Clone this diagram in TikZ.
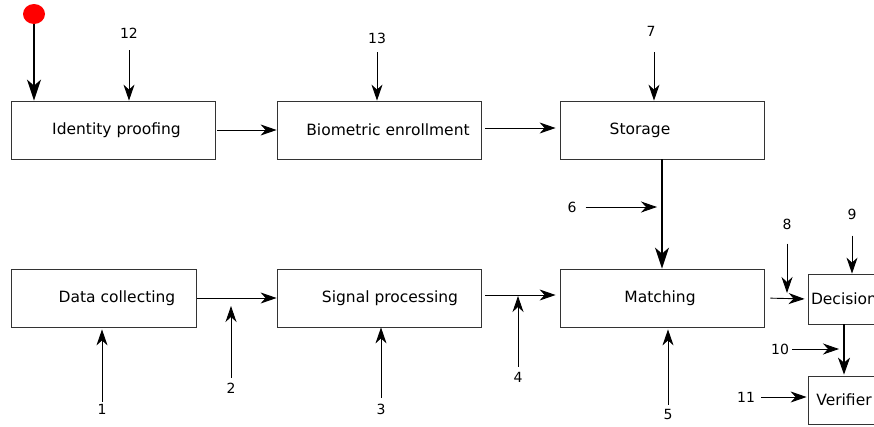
\documentclass[tikz,border=0pt]{standalone}
\usepackage{fontspec}
\setmainfont{DejaVu Sans}
\usetikzlibrary{arrows.meta, positioning, shapes.geometric}

\begin{document}
\begin{tikzpicture}[
  x=1pt, y=-1pt,
  font=\fontsize{15.5}{18}\selectfont,
  blk/.style={draw=black!80, line width=0.8pt, minimum width=204pt, minimum height=58pt, inner sep=0pt},
  smallblk/.style={blk, minimum width=72pt},
  num/.style={inner sep=2pt, font=\fontsize{14}{16}\selectfont},
  arr/.style={-{Stealth[length=16pt, width=11pt, inset=5pt]}, line width=0.9pt},
  bigarr/.style={-{Stealth[length=21pt, width=14pt, inset=6pt]}, line width=1.5pt}
]
\clip (0,0) rectangle (874,426);

% top row
\node[ellipse, fill=red, minimum width=22pt, minimum height=20pt, inner sep=0pt] (start) at (34,14) {};
\node[blk, label={[xshift=3.5pt]center:Identity proofing}] (idp) at (113,130) {};
\node[blk, label={[xshift=9pt]center:Biometric enrollment}] (bio) at (379,130) {};
\node[blk, label={[xshift=-22pt]center:Storage}] (stor) at (662,130) {};

% bottom row
\node[blk, minimum width=185pt, label={[xshift=13.5pt]center:Data collecting}] (dc) at (103.5,298) {};
\node[blk, label={[xshift=11pt]center:Signal processing}] (sp) at (379,298) {};
\node[blk, label={[xshift=-2pt]center:Matching}] (match) at (662,298) {};
\node[smallblk, minimum height=50pt] (dec) at (844,299) {Decision};
\node[smallblk, minimum height=48pt] (ver) at (844,400) {Verifier};

% numbered points
\node[num] (n12) at (129,33) {12};
\node[num] (n13) at (377,38) {13};
\node[num] (n7) at (651,31) {7};
\node[num] (n6) at (572,207) {6};
\node[num] (n8) at (787,224) {8};
\node[num] (n9) at (852,214) {9};
\node[num] (n10) at (780,349) {10};
\node[num] (n11) at (746,397) {11};
\node[num] (n1) at (102,409) {1};
\node[num] (n2) at (231,388) {2};
\node[num] (n3) at (381,409) {3};
\node[num] (n4) at (518,377) {4};
\node[num] (n5) at (668,414) {5};

% main flow
\draw[bigarr] (start) -- (start |- idp.north);
\draw[arr, shorten <=2pt] (idp.east) -- (bio.west);
\draw[arr, shorten <=4pt, shorten >=4pt] ([yshift=2pt]bio.east) -- ([yshift=2pt]stor.west);
\draw[bigarr] (stor.south) -- (match.north);
\draw[arr, shorten <=1pt] (dc.east) -- (sp.west);
\draw[arr, shorten <=4pt, shorten >=4pt] ([yshift=3pt]sp.east) -- ([yshift=3pt]match.west);
\draw[arr, shorten <=6pt, shorten >=3pt] (match.east) -- (dec.west);
\draw[arr, line width=1.2pt, -{Stealth[length=17pt, width=12pt, inset=5pt]}, shorten >=1pt] (dec.south) -- (ver.north);

% inputs
\draw[arr, shorten <=10pt] (n12) -- (n12 |- idp.north);
\draw[arr, shorten <=7pt] (n13) -- (n13 |- bio.north);
\draw[arr, shorten <=14pt] ([xshift=3pt]n7.south) -- ([xshift=3pt]n7 |- stor.north);
\draw[arr, shorten <=7pt, shorten >=5pt] (n6) -- (n6 -| stor.south);
\draw[arr, shorten <=12pt, shorten >=6pt] (n8) -- (n8 |- dec.west);
\draw[arr, shorten <=14pt] (n9) -- (n9 |- dec.north);
\draw[arr, shorten <=1pt, shorten >=5pt] (n10) -- (n10 -| dec.south);
\draw[arr, shorten <=4pt, shorten >=1pt] (n11) -- (n11 -| ver.west);
\draw[arr, shorten >=2pt] (n1) -- (n1 |- dc.south);
\draw[arr, shorten <=3pt, shorten >=8pt] (n2) -- (n2 |- dc.east);
\draw[arr, shorten <=4pt] (n3) -- (n3 |- sp.south);
\draw[arr, shorten <=3pt] (n4) -- (n4 |- 0,296);
\draw[arr, shorten <=2pt, shorten >=2pt] (n5) -- (n5 |- match.south);
\end{tikzpicture}
\end{document}
